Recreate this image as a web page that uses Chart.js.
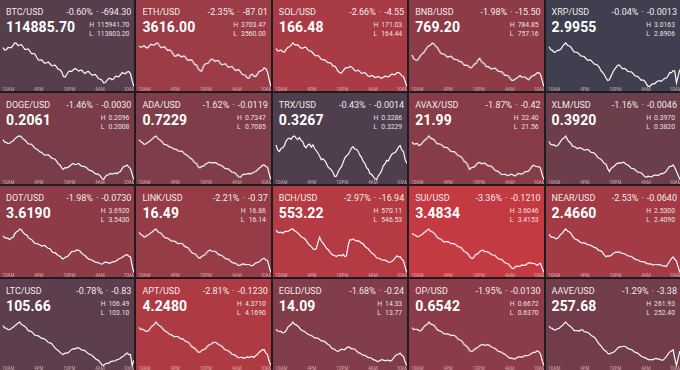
<!DOCTYPE html>
<html>
<head>
<meta charset="utf-8">
<script src="https://cdn.jsdelivr.net/npm/chart.js@4.4.1/dist/chart.umd.min.js"></script>
<style>
  html, body { margin: 0; padding: 0; background: #1d1c22; }
  body { width: 680px; height: 370px; overflow: hidden; font-family: Roboto, "Liberation Sans", sans-serif; }
  #grid { display: grid; grid-template-columns: repeat(5, 1fr); grid-template-rows: repeat(4, 1fr); gap: 2px; width: 680px; height: 370px; }
  .tile { position: relative; overflow: hidden; color: #fff; }
  .name { position: absolute; left: 6px; top: 7px; font-size: 9px; line-height: 10px; color: rgba(255,255,255,0.92); }
  .chg { position: absolute; right: 3px; top: 7px; font-size: 9px; line-height: 10px; color: rgba(255,255,255,0.92); white-space: nowrap; }
  .chg .sep { margin: 0 3px; }
  .price { position: absolute; left: 6px; top: 19px; font-size: 14px; line-height: 16px; font-weight: 700; letter-spacing: 0.1px; }
  .hl { position: absolute; right: 5px; top: 21px; display: grid; grid-template-columns: auto auto; column-gap: 3px; row-gap: 0; font-size: 6.8px; line-height: 8.6px; color: rgba(255,255,255,0.87); }
  .hl .v { text-align: right; }
  .spark { position: absolute; left: 0; right: 0; top: 40px; bottom: 0; }
</style>
</head>
<body>
<div id="grid"></div>
<script>
const NAMES = ["BTC/USD", "ETH/USD", "SOL/USD", "BNB/USD", "XRP/USD",
  "DOGE/USD", "ADA/USD", "TRX/USD", "AVAX/USD", "XLM/USD",
  "DOT/USD", "LINK/USD", "BCH/USD", "SUI/USD", "NEAR/USD",
  "LTC/USD", "APT/USD", "EGLD/USD", "OP/USD", "AAVE/USD"];
const PRICES = ["114885.70", "3616.00", "166.48", "769.20", "2.9955",
  "0.2061", "0.7229", "0.3267", "21.99", "0.3920",
  "3.6190", "16.49", "553.22", "3.4834", "2.4660",
  "105.66", "4.2480", "14.09", "0.6542", "257.68"];
const CHANGE_PCT = [-0.60, -2.35, -2.66, -1.98, -0.04,
  -1.46, -1.62, -0.43, -1.87, -1.16,
  -1.98, -2.21, -2.97, -3.36, -2.53,
  -0.78, -2.81, -1.68, -1.95, -1.29];
const CHANGE_ABS = ["-694.30", "-87.01", "-4.55", "-15.50", "-0.0013",
  "-0.0030", "-0.0119", "-0.0014", "-0.42", "-0.0046",
  "-0.0730", "-0.37", "-16.94", "-0.1210", "-0.0640",
  "-0.83", "-0.1230", "-0.24", "-0.0130", "-3.38"];
const HIGHS = ["115941.70", "3703.47", "171.03", "784.85", "3.0163",
  "0.2096", "0.7347", "0.3286", "22.40", "0.3970",
  "3.6920", "16.86", "570.11", "3.6046", "2.5300",
  "106.49", "4.3710", "14.33", "0.6672", "261.93"];
const LOWS = ["113803.20", "3560.00", "164.44", "757.16", "2.8906",
  "0.2008", "0.7085", "0.3229", "21.56", "0.3820",
  "3.5430", "16.14", "546.53", "3.4153", "2.4090",
  "103.10", "4.1690", "13.77", "0.6370", "252.40"];

// x axis: 79 samples over ~26h, labels every 6h
const TICK_LABELS = ["10AM", "4PM", "10PM", "4AM", "10AM"];
const TICK_AT = [3.2, 21.4, 39.6, 57.8, 75.6];

// sparkline values, relative level within the day
const BTC = [118,111,112,119,118,118,125,132,131,124,126,127,120,113,113,114,108,100,100,99,90,82,80,82,76,71,73,75,70,64,64,66,60,53,52,46,32,30,38,46,48,47,52,56,53,48,50,51,44,41,46,47,41,36,37,38,32,25,24,21,13,14,20,26,26,22,25,32,32,31,37,43,42,40,45,47,40,20,2];
const ETH = [125,120,122,125,120,118,124,130,128,127,132,134,126,119,120,122,116,110,112,109,100,92,92,98,94,89,92,92,84,78,80,81,74,65,64,52,46,44,58,67,68,70,78,83,80,75,78,78,70,64,66,68,62,56,58,59,52,46,48,49,42,34,32,31,22,21,32,34,28,27,34,43,45,47,55,52,42,18,-5];
const SOL = [115,109,108,111,106,105,112,118,120,124,131,127,125,126,120,116,116,119,118,111,108,107,102,96,94,95,90,84,82,83,78,74,74,71,64,64,58,49,45,44,50,57,60,59,63,62,57,51,50,52,48,43,44,45,40,35,34,37,35,31,32,34,31,29,32,35,34,33,37,41,40,39,45,46,42,36,34,20,5];
const BNB = [95,84,80,79,85,93,98,102,110,118,122,124,130,127,120,117,108,100,98,97,93,88,90,91,86,81,82,80,75,76,70,64,65,64,58,57,62,68,70,80,85,76,72,68,60,61,57,53,55,56,52,47,46,46,40,35,35,33,26,20,20,24,26,31,34,29,30,30,25,22,28,33,34,37,42,43,38,20,2];
const XRP = [120,112,110,105,106,110,110,113,120,126,130,124,122,119,112,106,105,104,100,95,94,93,88,83,84,83,78,73,72,70,64,55,50,44,35,28,30,40,50,58,64,70,70,64,60,61,58,53,52,52,48,42,40,39,34,29,30,27,20,13,12,17,20,19,24,27,28,26,30,34,35,41,50,49,55,54,22,40,58];
const DOGE = [120,113,112,109,110,114,116,122,126,129,130,127,122,119,114,108,108,107,102,96,94,91,86,85,80,77,78,78,74,69,68,66,60,53,50,42,38,43,42,44,48,52,54,51,52,54,50,46,46,45,42,37,35,34,30,26,25,24,20,13,10,18,22,23,27,25,26,28,26,30,32,40,46,47,50,44,40,24,10];
const ADA = [120,114,112,107,108,112,114,119,122,127,130,124,120,117,112,106,106,104,100,99,96,93,94,89,88,89,86,80,78,75,70,67,62,56,54,45,42,46,46,51,54,57,58,55,56,57,55,51,50,48,44,40,40,39,34,30,30,27,22,17,16,22,25,24,26,27,25,28,30,32,36,41,44,49,50,46,44,26,10];
const TRX = [110,96,92,100,102,108,120,126,128,125,132,134,128,124,130,122,118,106,102,110,112,104,110,100,94,88,80,70,72,68,60,50,46,42,35,24,25,36,45,50,62,74,80,84,92,101,105,98,98,92,82,76,65,60,48,44,32,30,24,18,16,26,32,40,54,58,68,66,76,84,88,89,95,104,108,96,92,70,60];
const AVAX = [115,109,110,111,105,107,112,118,122,126,132,126,124,122,115,110,110,109,105,100,100,99,94,89,88,88,84,78,76,74,68,60,58,50,38,43,44,46,52,57,58,54,55,56,52,48,48,47,42,36,34,33,28,24,24,25,22,21,24,25,22,20,24,27,26,25,28,32,32,34,40,47,50,47,46,46,42,24,10];
const XLM = [115,107,105,106,102,103,108,116,122,125,130,120,114,110,102,101,98,95,98,97,94,91,92,93,90,85,84,83,78,71,68,66,60,54,52,40,32,40,44,47,52,55,56,55,58,56,52,50,46,41,40,39,34,30,30,28,24,18,16,19,18,17,20,22,22,21,24,27,26,29,34,41,46,46,50,43,32,22,10];
const DOT = [110,105,104,103,100,104,106,116,122,124,130,127,120,115,114,106,102,100,94,89,88,87,84,81,82,82,78,74,74,66,62,62,58,53,52,46,44,49,50,53,60,65,66,66,70,69,66,60,56,53,48,44,42,41,38,35,34,33,30,29,32,35,34,32,32,35,36,37,40,44,46,48,52,55,56,52,50,25,5];
const LINK = [120,114,112,107,108,113,114,119,122,127,130,123,120,118,112,106,104,104,100,96,95,95,92,88,88,89,86,80,78,76,70,63,60,59,54,48,46,51,54,56,62,67,70,66,66,66,62,57,55,54,50,45,44,43,38,34,32,32,28,25,26,29,30,27,28,28,25,24,28,32,34,35,40,44,46,41,40,22,5];
const BCH = [125,119,118,119,116,120,122,121,124,127,128,123,120,117,112,106,104,101,95,88,82,79,72,70,72,90,105,94,88,82,74,70,64,58,54,53,50,53,54,52,56,50,52,80,98,97,100,96,94,95,92,88,86,79,75,72,66,60,58,53,46,46,44,41,40,40,38,34,34,36,40,46,52,49,50,43,38,20,5];
const SUI = [120,115,114,109,110,114,116,121,124,129,132,125,124,120,114,107,104,103,98,94,95,95,93,89,90,89,86,81,80,78,72,66,64,60,52,47,46,53,58,60,66,69,70,66,66,65,62,57,56,55,50,45,44,43,38,33,32,30,24,18,16,21,24,22,24,27,26,26,30,33,34,31,32,30,26,30,32,18,5];
const NEAR = [115,108,106,106,102,103,108,115,118,125,130,124,122,118,110,103,100,99,94,91,90,90,88,85,84,83,80,77,76,71,68,67,62,55,50,53,52,54,58,62,64,63,64,61,60,59,56,53,52,51,48,44,42,41,38,36,36,35,32,30,30,29,26,28,28,27,28,25,24,24,22,30,38,45,50,43,38,22,5];
const LTC = [125,119,118,114,114,118,120,125,128,132,135,128,126,123,118,112,110,109,104,99,98,97,94,90,90,88,84,79,78,76,70,64,60,57,52,48,46,50,50,51,56,60,62,61,64,64,62,58,58,56,52,48,46,44,40,35,32,30,24,18,16,21,22,22,26,28,28,29,32,33,36,40,42,47,50,46,46,16,30];
const APT = [115,109,110,108,104,104,108,115,120,123,130,124,120,117,112,106,104,101,96,95,92,89,90,90,86,83,84,78,76,75,70,63,60,57,52,47,46,51,54,55,60,66,68,70,74,74,72,68,66,63,58,53,52,50,46,41,40,38,34,31,32,33,30,31,34,32,34,35,32,37,40,46,50,53,54,45,40,22,10];
const EGLD = [110,105,104,104,100,101,106,115,120,123,130,124,122,119,114,108,106,104,100,96,94,93,90,86,86,85,82,78,78,76,72,68,66,59,56,55,50,49,52,55,54,54,58,61,60,56,56,55,50,46,44,42,38,38,35,32,32,30,26,25,22,21,24,26,25,23,24,25,22,24,30,36,40,41,44,38,35,20,10];
const OP = [115,109,110,110,106,105,110,117,122,125,132,126,124,122,115,108,106,104,100,96,96,96,94,91,92,91,88,81,78,76,70,63,60,55,46,42,44,49,52,55,60,63,64,61,62,63,60,56,54,52,48,43,42,40,36,34,30,25,22,23,20,20,24,26,26,25,28,30,30,31,34,38,40,40,45,42,35,16,0];
const AAVE = [120,115,114,110,110,113,114,119,122,128,132,126,122,119,114,108,108,108,106,110,110,105,104,103,100,95,92,89,84,76,70,65,58,53,50,44,42,45,46,49,54,59,62,62,64,64,62,58,56,55,52,48,46,44,40,36,34,32,30,27,26,27,26,29,30,28,28,25,25,30,35,42,48,51,54,30,10,30,50];

const SERIES = [BTC, ETH, SOL, BNB, XRP, DOGE, ADA, TRX, AVAX, XLM,
  DOT, LINK, BCH, SUI, NEAR, LTC, APT, EGLD, OP, AAVE];

// tile colour: grey for flat, red for big drops
function tileColor(pct) {
  const t = Math.max(0, Math.min(1, -pct / 3.4));
  const a = [62, 63, 79], b = [197, 58, 66];
  const c = a.map((v, i) => Math.round(v + (b[i] - v) * t));
  return `rgb(${c[0]},${c[1]},${c[2]})`;
}

const grid = document.getElementById("grid");

NAMES.forEach((name, k) => {
  const tile = document.createElement("div");
  tile.className = "tile";
  tile.style.background = tileColor(CHANGE_PCT[k]);
  tile.innerHTML = `
    <div class="name">${name}</div>
    <div class="chg">${CHANGE_PCT[k].toFixed(2)}%<span class="sep">·</span>${CHANGE_ABS[k]}</div>
    <div class="price">${PRICES[k]}</div>
    <div class="hl"><span>H</span><span class="v">${HIGHS[k]}</span><span>L</span><span class="v">${LOWS[k]}</span></div>
    <div class="spark"><canvas></canvas></div>`;
  grid.appendChild(tile);

  const vals = SERIES[k];
  new Chart(tile.querySelector("canvas"), {
    type: "line",
    data: {
      datasets: [{
        data: vals.map((v, i) => ({ x: i, y: v })),
        borderColor: "rgba(255,255,255,0.97)",
        borderWidth: 1.2,
        pointRadius: 0,
        tension: 0,
        clip: false
      }]
    },
    options: {
      responsive: true,
      maintainAspectRatio: false,
      animation: false,
      events: [],
      layout: { padding: { top: 3, left: 3, right: 0, bottom: 0 } },
      plugins: { legend: { display: false }, tooltip: { enabled: false } },
      scales: {
        x: {
          type: "linear",
          min: 0,
          max: vals.length - 1,
          grid: { display: false, drawTicks: false },
          border: { display: false },
          afterBuildTicks: s => { s.ticks = TICK_AT.map(v => ({ value: v })); },
          afterFit: s => { s.paddingLeft = 0; s.paddingRight = 0; s.height = 4.5; },
          ticks: {
            autoSkip: false,
            maxRotation: 0,
            padding: 1,
            color: "rgba(255,210,210,0.65)",
            font: { size: 4.5, family: "Roboto" },
            callback: (v, i) => TICK_LABELS[i]
          }
        },
        y: { display: false, min: Math.min(...vals), max: Math.max(...vals) }
      }
    }
  });
});
</script>
</body>
</html>
